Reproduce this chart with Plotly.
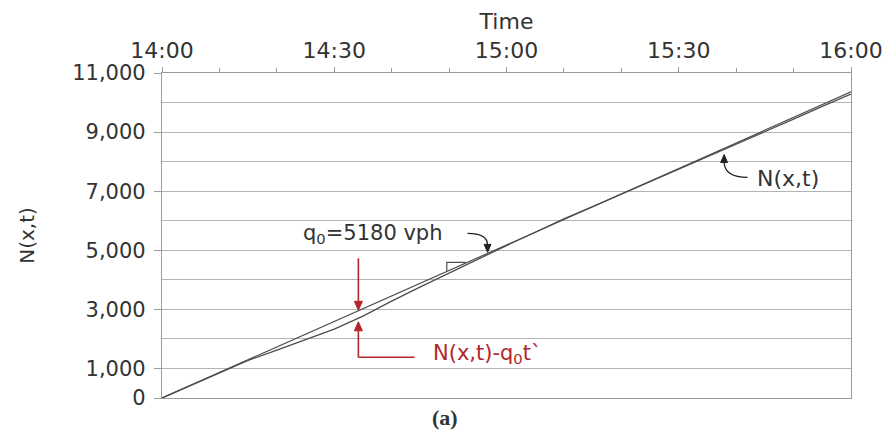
import plotly.graph_objects as go

# ---- data ----
minutes = [0, 5, 10, 15, 20, 25, 30, 35, 40, 45, 50, 55, 60,
           65, 70, 75, 80, 85, 90, 95, 100, 105, 110, 115, 120]
n_xt = [0, 425, 855, 1270, 1620, 1980, 2330, 2770, 3280, 3760, 4230, 4700, 5160,
        5610, 6060, 6480, 6900, 7330, 7750, 8170, 8580, 9010, 9440, 9870, 10290]
q0_line_min = [0, 120]
q0_line_n = [0, 10360]

x_tickvals = [0, 30, 60, 90, 120]
x_ticktext = ["14:00", "14:30", "15:00", "15:30", "16:00"]
y_tickvals = [0, 1000, 3000, 5000, 7000, 9000, 11000]
y_ticktext = ["0", "1,000", "3,000", "5,000", "7,000", "9,000", "11,000"]

FONT = "DejaVu Sans"
TXT = "#333333"
RED = "#b3262c"
LINE = "#4d4d4d"

fig = go.Figure()
fig.add_trace(go.Scatter(x=q0_line_min, y=q0_line_n, mode="lines",
                         line=dict(color=LINE, width=1.2), showlegend=False,
                         hoverinfo="skip"))
fig.add_trace(go.Scatter(x=minutes, y=n_xt, mode="lines",
                         line=dict(color=LINE, width=1.3), showlegend=False))

shapes = []
# slope marker
shapes.append(dict(type="path", xref="x", yref="y",
                   path="M 49.6 4282 L 49.6 4590 L 52.9 4590",
                   line=dict(color=LINE, width=1.2)))
# q0 curved leader + arrowhead
shapes.append(dict(type="path", xref="x", yref="y",
                   path="M 53.2 5575 Q 56.7 5575 56.7 5180",
                   line=dict(color="#222", width=1.3)))
shapes.append(dict(type="path", xref="x", yref="y",
                   path="M 56.7 4930 L 56.1 5200 L 57.3 5200 Z",
                   fillcolor="#222", line=dict(color="#222", width=1)))
# N(x,t) curved leader + arrowhead
shapes.append(dict(type="path", xref="x", yref="y",
                   path="M 102.0 7470 Q 98.0 7470 97.9 7980",
                   line=dict(color="#222", width=1.3)))
shapes.append(dict(type="path", xref="x", yref="y",
                   path="M 97.9 8240 L 97.3 7970 L 98.5 7970 Z",
                   fillcolor="#222", line=dict(color="#222", width=1)))
# red arrows and leader
shapes.append(dict(type="line", xref="x", yref="y", x0=34.2, y0=4728, x1=34.2, y1=3250,
                   line=dict(color=RED, width=1.6)))
shapes.append(dict(type="path", xref="x", yref="y",
                   path="M 34.2 2968 L 33.5 3273 L 34.9 3273 Z",
                   fillcolor=RED, line=dict(color=RED, width=1)))
shapes.append(dict(type="line", xref="x", yref="y", x0=34.2, y0=1377, x1=34.2, y1=2290,
                   line=dict(color=RED, width=1.6)))
shapes.append(dict(type="path", xref="x", yref="y",
                   path="M 34.2 2580 L 33.5 2275 L 34.9 2275 Z",
                   fillcolor=RED, line=dict(color=RED, width=1)))
shapes.append(dict(type="line", xref="x", yref="y", x0=34.2, y0=1377, x1=44.0, y1=1377,
                   line=dict(color=RED, width=1.6)))

annotations = []
annotations.append(dict(x=24.2, y=5540, xref="x", yref="y", xanchor="left",
                        text="q<sub>0</sub>=5180 vph", showarrow=False,
                        font=dict(family=FONT, size=21, color=TXT)))
annotations.append(dict(x=46.9, y=1480, xref="x", yref="y", xanchor="left",
                        text="N(x,t)-q<sub>0</sub>t`", showarrow=False,
                        font=dict(family=FONT, size=21, color=RED)))
annotations.append(dict(x=103.2, y=7440, xref="x", yref="y", xanchor="left",
                        text="N(x,t)", showarrow=False,
                        font=dict(family=FONT, size=22, color=TXT)))
annotations.append(dict(x=0.411, y=-0.105, xref="paper", yref="paper",
                        text="<b>(a)</b>", showarrow=False,
                        font=dict(family="Liberation Serif", size=22, color=TXT)))

fig.update_layout(
    width=895, height=443,
    margin=dict(l=162, r=34, t=73, b=45),
    paper_bgcolor="white", plot_bgcolor="white",
    shapes=shapes, annotations=annotations,
    xaxis=dict(side="top", range=[0, 120], tickvals=x_tickvals, ticktext=x_ticktext,
               showgrid=False, zeroline=False, showline=True, linecolor="#9a9a9a",
               linewidth=1.2, mirror=True, ticks="outside", ticklen=5,
               tickcolor="#9a9a9a",
               minor=dict(dtick=10, tick0=0, ticks="outside", ticklen=4,
                          tickcolor="#9a9a9a"),
               tickfont=dict(family=FONT, size=22, color=TXT),
               title=dict(text="Time", font=dict(family=FONT, size=22, color=TXT),
                          standoff=2)),
    yaxis=dict(range=[0, 11000], tickvals=y_tickvals, ticktext=y_ticktext,
               showgrid=True, gridcolor="#b4b4b4", gridwidth=1.2,
               zeroline=False, showline=True, linecolor="#9a9a9a", linewidth=1.2,
               mirror=True, ticks="outside", ticklen=7, tickcolor="#9a9a9a",
               minor=dict(dtick=1000, tick0=0, showgrid=True, gridcolor="#b4b4b4",
                          gridwidth=1.2),
               tickfont=dict(family=FONT, size=21, color=TXT),
               ticklabelstandoff=4,
               title=dict(text="N(x,t)", font=dict(family=FONT, size=20, color=TXT),
                          standoff=32)),
)

fig.write_html("out.html")
